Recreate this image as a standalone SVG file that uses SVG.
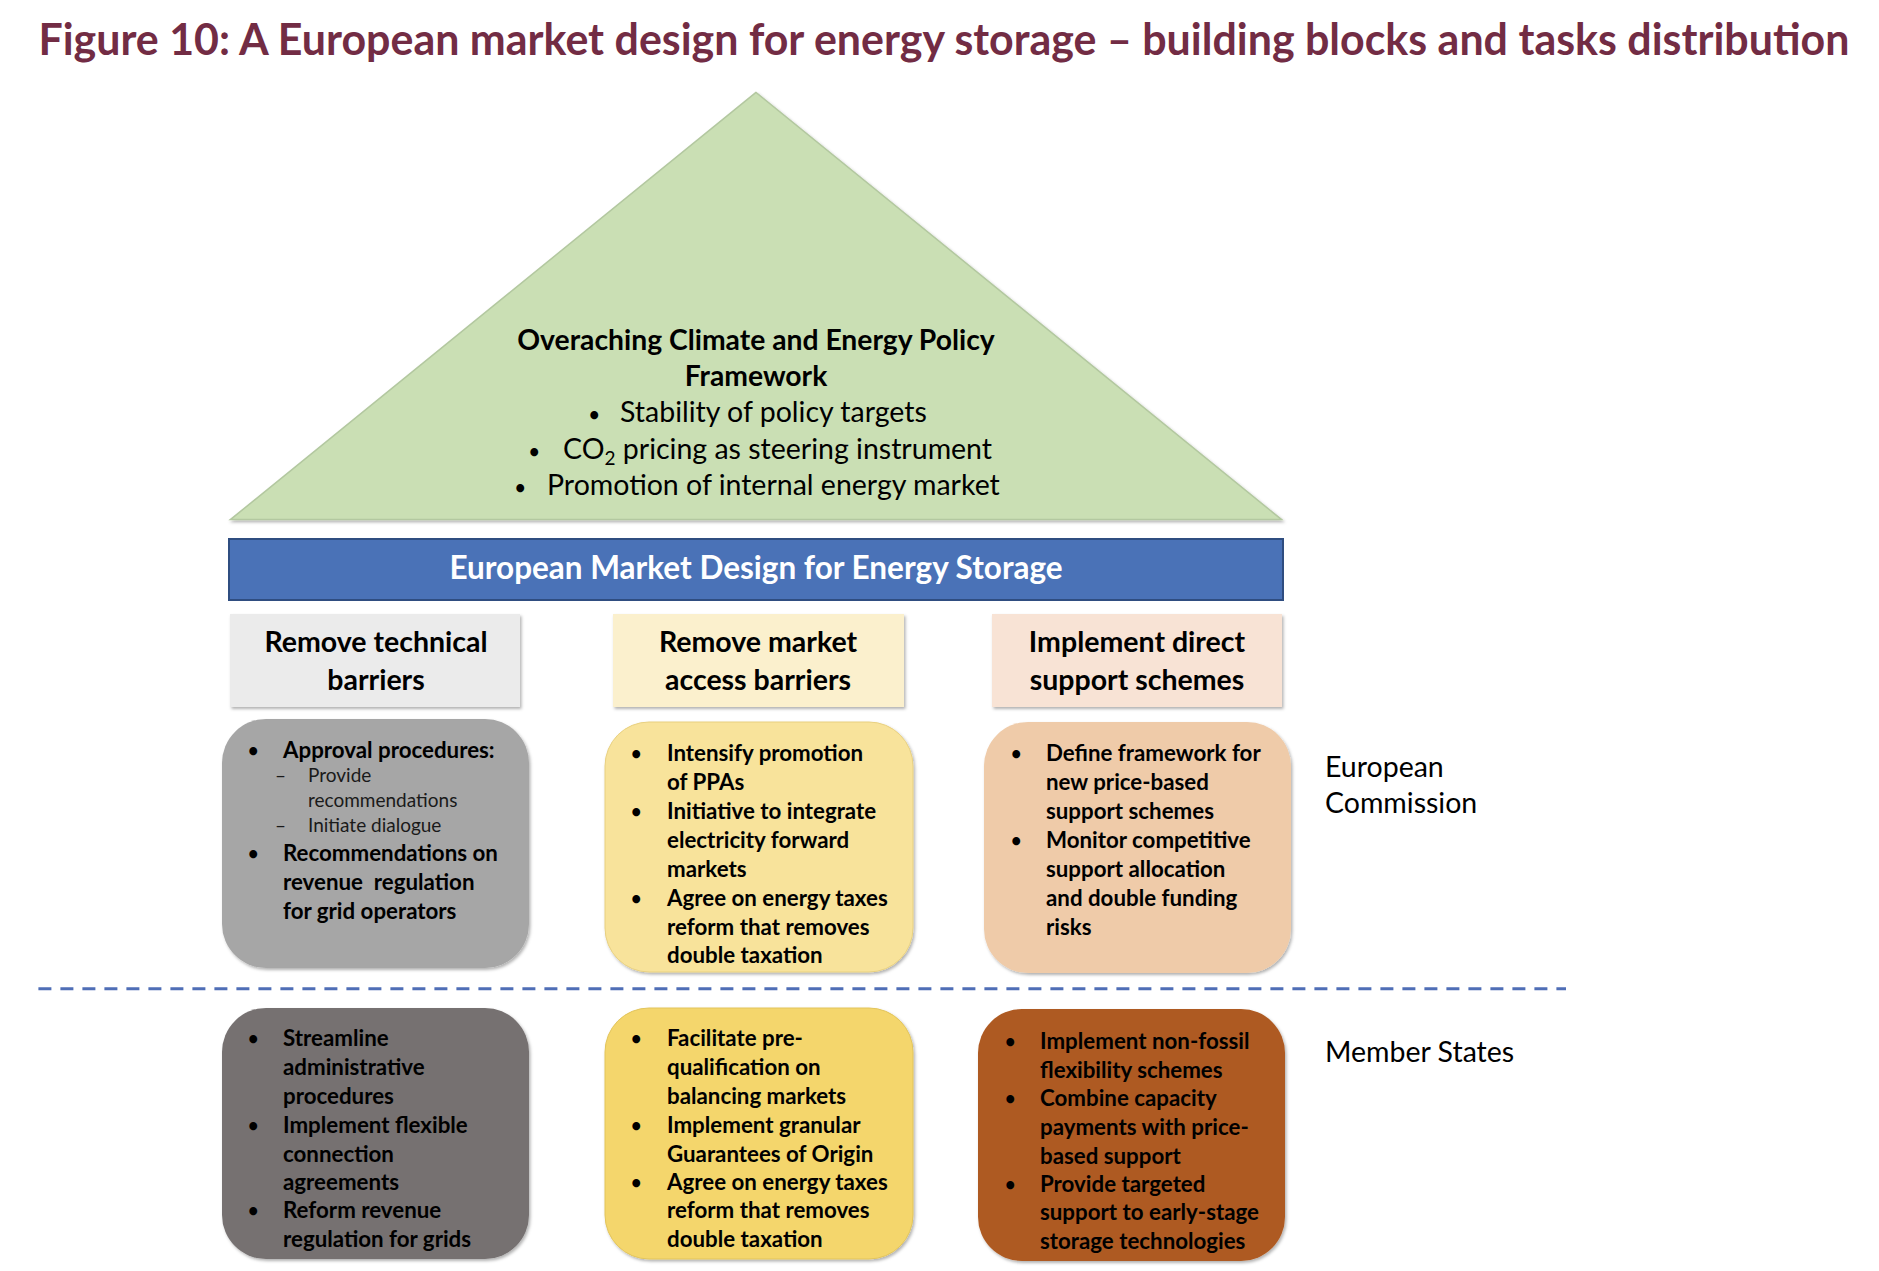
<svg xmlns="http://www.w3.org/2000/svg" width="1879" height="1271" viewBox="0 0 1879 1271">
<style>
  text { font-family: "Lato", "Carlito", "Open Sans", sans-serif; fill: #000; }
  .title { font-size: 43px; font-weight: bold; fill: #722C44; }
  .tri-h { font-size: 28.3px; font-weight: bold; text-anchor: middle; }
  .tri-b { font-size: 28.5px; }
  .bar-t { font-size: 31.5px; font-weight: bold; fill: #fff; text-anchor: middle; }
  .hdr-t { font-size: 28.5px; font-weight: bold; text-anchor: middle; }
  .bx { font-size: 22.3px; font-weight: bold; }
  .bul { font-size: 18px; font-weight: bold; }
  .sub { font-size: 19px; font-weight: normal; fill: #1a1a1a; }
  .lbl { font-size: 28.5px; }
</style>
<defs>
  <filter id="sh" x="-5%" y="-5%" width="112%" height="112%">
    <feDropShadow dx="1.5" dy="2" stdDeviation="1.5" flood-color="#000" flood-opacity="0.3"/>
  </filter>
</defs>
<rect width="1879" height="1271" fill="#fff"/>

<text class="title" x="38.4" y="55" textLength="1811" lengthAdjust="spacingAndGlyphs">Figure 10: A European market design for energy storage – building blocks and tasks distribution</text>

<g id="policy-framework">
  <polygon points="756,92.4 230.4,519.6 1281.6,519.6" fill="#CADFB4" stroke="#B3C8A0" stroke-width="1.5" filter="url(#sh)"/>
  <text class="tri-h" x="756" y="350">Overaching Climate and Energy Policy</text>
  <text class="tri-h" x="756" y="386">Framework</text>
  <text class="tri-b bul" x="589" y="421">•</text>
  <text class="tri-b" x="620" y="422">Stability of policy targets</text>
  <text class="tri-b bul" x="529" y="458">•</text>
  <text class="tri-b" x="563" y="459">CO<tspan font-size="19" dy="6">2</tspan><tspan dy="-6"> pricing as steering instrument</tspan></text>
  <text class="tri-b bul" x="515" y="494">•</text>
  <text class="tri-b" x="547" y="495">Promotion of internal energy market</text>
</g>

<g id="market-design-bar">
  <rect x="229" y="539" width="1054" height="61" fill="#4A72B7" stroke="#2F4D80" stroke-width="2"/>
  <text class="bar-t" x="756" y="579">European Market Design for Energy Storage</text>
</g>

<g id="hdr-technical">
  <rect x="230" y="614" width="290" height="93" fill="#EBEBEB" filter="url(#sh)"/>
  <text class="hdr-t" x="376" y="652">Remove technical</text>
  <text class="hdr-t" x="376" y="690">barriers</text>
</g>
<g id="hdr-market">
  <rect x="613" y="614" width="291" height="93" fill="#FBF0CD" filter="url(#sh)"/>
  <text class="hdr-t" x="758" y="652">Remove market</text>
  <text class="hdr-t" x="758" y="690">access barriers</text>
</g>
<g id="hdr-support">
  <rect x="992" y="614" width="290" height="93" fill="#F8E3D5" filter="url(#sh)"/>
  <text class="hdr-t" x="1137" y="652">Implement direct</text>
  <text class="hdr-t" x="1137" y="690">support schemes</text>
</g>

<g id="ec-technical">
  <rect x="222" y="719" width="307" height="249" rx="44" fill="#A6A6A6" filter="url(#sh)"/>
  <text class="bul" x="248" y="757">•</text>
  <text class="bx" x="283" y="758">Approval procedures:</text>
  <text class="sub" x="275" y="782">–</text>
  <text class="sub" x="308" y="782">Provide</text>
  <text class="sub" x="308" y="807">recommendations</text>
  <text class="sub" x="275" y="832">–</text>
  <text class="sub" x="308" y="832">Initiate dialogue</text>
  <text class="bul" x="248" y="860">•</text>
  <text class="bx" x="283" y="861">Recommendations on</text>
  <text class="bx" x="283" y="890" xml:space="preserve">revenue  regulation</text>
  <text class="bx" x="283" y="919">for grid operators</text>
</g>

<g id="ec-market">
  <rect x="605" y="722" width="308" height="250" rx="44" fill="#F8E39B" stroke="#E8D080" stroke-width="1" filter="url(#sh)"/>
  <text class="bul" x="631" y="760">•</text>
  <text class="bx" x="667" y="761">Intensify promotion</text>
  <text class="bx" x="667" y="790">of PPAs</text>
  <text class="bul" x="631" y="818">•</text>
  <text class="bx" x="667" y="819">Initiative to integrate</text>
  <text class="bx" x="667" y="848">electricity forward</text>
  <text class="bx" x="667" y="877">markets</text>
  <text class="bul" x="631" y="905">•</text>
  <text class="bx" x="667" y="906">Agree on energy taxes</text>
  <text class="bx" x="667" y="934.5">reform that removes</text>
  <text class="bx" x="667" y="962.5">double taxation</text>
</g>

<g id="ec-support">
  <rect x="984" y="722" width="307" height="251" rx="44" fill="#EFCBA9" filter="url(#sh)"/>
  <text class="bul" x="1011" y="760">•</text>
  <text class="bx" x="1046" y="761">Define framework for</text>
  <text class="bx" x="1046" y="790">new price-based</text>
  <text class="bx" x="1046" y="819">support schemes</text>
  <text class="bul" x="1011" y="847">•</text>
  <text class="bx" x="1046" y="848">Monitor competitive</text>
  <text class="bx" x="1046" y="877">support allocation</text>
  <text class="bx" x="1046" y="906">and double funding</text>
  <text class="bx" x="1046" y="934.5">risks</text>
</g>

<g id="connectors">
  <line x1="38.4" y1="988.8" x2="1566" y2="988.8" stroke="#4F6EB6" stroke-width="3" stroke-dasharray="13 9"/>
</g>

<g id="ms-technical">
  <rect x="222" y="1008" width="307" height="251" rx="44" fill="#767171" filter="url(#sh)"/>
  <text class="bul" x="248" y="1045">•</text>
  <text class="bx" x="283" y="1046">Streamline</text>
  <text class="bx" x="283" y="1075">administrative</text>
  <text class="bx" x="283" y="1104">procedures</text>
  <text class="bul" x="248" y="1132">•</text>
  <text class="bx" x="283" y="1133">Implement flexible</text>
  <text class="bx" x="283" y="1162">connection</text>
  <text class="bx" x="283" y="1189.5">agreements</text>
  <text class="bul" x="248" y="1217">•</text>
  <text class="bx" x="283" y="1218.4">Reform revenue</text>
  <text class="bx" x="283" y="1247.3">regulation for grids</text>
</g>

<g id="ms-market">
  <rect x="605" y="1008" width="308" height="251" rx="44" fill="#F4D66C" stroke="#E2C45A" stroke-width="1" filter="url(#sh)"/>
  <text class="bul" x="631" y="1045">•</text>
  <text class="bx" x="667" y="1046">Facilitate pre-</text>
  <text class="bx" x="667" y="1075">qualification on</text>
  <text class="bx" x="667" y="1104">balancing markets</text>
  <text class="bul" x="631" y="1132">•</text>
  <text class="bx" x="667" y="1133">Implement granular</text>
  <text class="bx" x="667" y="1162">Guarantees of Origin</text>
  <text class="bul" x="631" y="1188.5">•</text>
  <text class="bx" x="667" y="1189.5">Agree on energy taxes</text>
  <text class="bx" x="667" y="1218.4">reform that removes</text>
  <text class="bx" x="667" y="1247.3">double taxation</text>
</g>

<g id="ms-support">
  <rect x="978" y="1009" width="307" height="252" rx="44" fill="#AE5A21" filter="url(#sh)"/>
  <text class="bul" x="1005" y="1048">•</text>
  <text class="bx" x="1040" y="1049">Implement non-fossil</text>
  <text class="bx" x="1040" y="1078">flexibility schemes</text>
  <text class="bul" x="1005" y="1105">•</text>
  <text class="bx" x="1040" y="1106">Combine capacity</text>
  <text class="bx" x="1040" y="1135">payments with price-</text>
  <text class="bx" x="1040" y="1164">based support</text>
  <text class="bul" x="1005" y="1190.5">•</text>
  <text class="bx" x="1040" y="1191.5">Provide targeted</text>
  <text class="bx" x="1040" y="1220.4">support to early-stage</text>
  <text class="bx" x="1040" y="1249.3">storage technologies</text>
</g>

<g id="label-ec">
  <text class="lbl" x="1325" y="777">European</text>
  <text class="lbl" x="1325" y="813">Commission</text>
</g>
<g id="label-ms">
  <text class="lbl" x="1325" y="1062">Member States</text>
</g>
</svg>
